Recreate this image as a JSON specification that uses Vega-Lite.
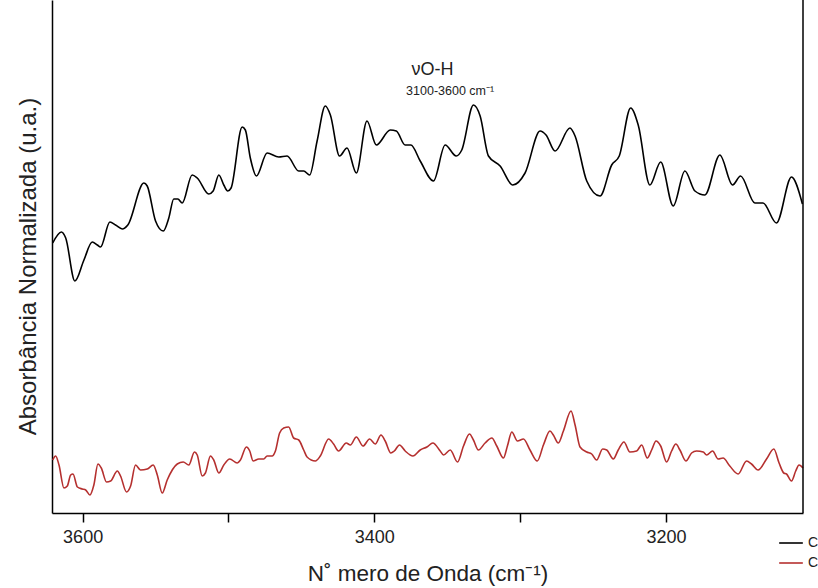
{
  "$schema": "https://vega.github.io/schema/vega-lite/v6.json",
  "width": 751,
  "height": 513,
  "autosize": "none",
  "padding": {"left": 52, "top": 0, "right": 15, "bottom": 75},
  "background": "white",
  "config": {"view": {"stroke": null}, "font": "Liberation Sans"},
  "datasets": {
    "spectra": [
      {"s":"C1","wn":3620.5,"a":2.70},{"s":"C1","wn":3614.6,"a":2.81},{"s":"C1","wn":3611.6,"a":2.75},{"s":"C1","wn":3605.3,"a":2.32},{"s":"C1","wn":3599.1,"a":2.53},{"s":"C1","wn":3593.4,"a":2.71},{"s":"C1","wn":3589.9,"a":2.68},{"s":"C1","wn":3587.7,"a":2.66},{"s":"C1","wn":3581.3,"a":2.91},{"s":"C1","wn":3577.4,"a":2.88},{"s":"C1","wn":3572.8,"a":2.84},{"s":"C1","wn":3569.0,"a":2.88},{"s":"C1","wn":3558.0,"a":3.30},{"s":"C1","wn":3555.7,"a":3.27},{"s":"C1","wn":3550.0,"a":2.92},{"s":"C1","wn":3544.7,"a":2.82},{"s":"C1","wn":3540.9,"a":2.95},{"s":"C1","wn":3537.5,"a":3.14},{"s":"C1","wn":3534.7,"a":3.14},{"s":"C1","wn":3531.7,"a":3.10},{"s":"C1","wn":3524.9,"a":3.38},{"s":"C1","wn":3521.4,"a":3.35},{"s":"C1","wn":3513.5,"a":3.19},{"s":"C1","wn":3510.5,"a":3.22},{"s":"C1","wn":3506.6,"a":3.38},{"s":"C1","wn":3503.2,"a":3.28},{"s":"C1","wn":3500.5,"a":3.22},{"s":"C1","wn":3498.2,"a":3.25},{"s":"C1","wn":3490.6,"a":3.86},{"s":"C1","wn":3488.4,"a":3.83},{"s":"C1","wn":3485.0,"a":3.55},{"s":"C1","wn":3480.8,"a":3.37},{"s":"C1","wn":3473.5,"a":3.60},{"s":"C1","wn":3465.5,"a":3.56},{"s":"C1","wn":3459.8,"a":3.57},{"s":"C1","wn":3451.8,"a":3.42},{"s":"C1","wn":3448.4,"a":3.42},{"s":"C1","wn":3444.3,"a":3.38},{"s":"C1","wn":3439.2,"a":3.72},{"s":"C1","wn":3433.6,"a":4.07},{"s":"C1","wn":3430.1,"a":3.98},{"s":"C1","wn":3423.8,"a":3.57},{"s":"C1","wn":3418.7,"a":3.65},{"s":"C1","wn":3412.3,"a":3.40},{"s":"C1","wn":3405.0,"a":3.92},{"s":"C1","wn":3398.6,"a":3.68},{"s":"C1","wn":3389.0,"a":3.83},{"s":"C1","wn":3384.9,"a":3.82},{"s":"C1","wn":3378.8,"a":3.68},{"s":"C1","wn":3374.9,"a":3.68},{"s":"C1","wn":3368.5,"a":3.52},{"s":"C1","wn":3359.4,"a":3.32},{"s":"C1","wn":3351.4,"a":3.68},{"s":"C1","wn":3343.8,"a":3.57},{"s":"C1","wn":3340.0,"a":3.63},{"s":"C1","wn":3332.0,"a":4.08},{"s":"C1","wn":3327.4,"a":3.97},{"s":"C1","wn":3321.7,"a":3.57},{"s":"C1","wn":3313.7,"a":3.47},{"s":"C1","wn":3305.0,"a":3.28},{"s":"C1","wn":3296.6,"a":3.40},{"s":"C1","wn":3286.3,"a":3.82},{"s":"C1","wn":3282.2,"a":3.78},{"s":"C1","wn":3276.0,"a":3.62},{"s":"C1","wn":3265.8,"a":3.85},{"s":"C1","wn":3262.3,"a":3.77},{"s":"C1","wn":3254.3,"a":3.32},{"s":"C1","wn":3245.2,"a":3.17},{"s":"C1","wn":3237.2,"a":3.48},{"s":"C1","wn":3232.0,"a":3.57},{"s":"C1","wn":3224.2,"a":4.05},{"s":"C1","wn":3219.0,"a":3.88},{"s":"C1","wn":3211.0,"a":3.28},{"s":"C1","wn":3203.6,"a":3.51},{"s":"C1","wn":3195.0,"a":3.07},{"s":"C1","wn":3187.0,"a":3.42},{"s":"C1","wn":3180.1,"a":3.22},{"s":"C1","wn":3173.3,"a":3.18},{"s":"C1","wn":3163.0,"a":3.58},{"s":"C1","wn":3154.3,"a":3.28},{"s":"C1","wn":3148.8,"a":3.37},{"s":"C1","wn":3139.0,"a":3.10},{"s":"C1","wn":3133.4,"a":3.10},{"s":"C1","wn":3124.2,"a":2.90},{"s":"C1","wn":3113.9,"a":3.36},{"s":"C1","wn":3106.4,"a":3.09},
      {"s":"C2","wn":3620.5,"a":0.53},{"s":"C2","wn":3618.5,"a":0.57},{"s":"C2","wn":3616.2,"a":0.48},{"s":"C2","wn":3612.8,"a":0.25},{"s":"C2","wn":3610.5,"a":0.27},{"s":"C2","wn":3608.2,"a":0.38},{"s":"C2","wn":3606.6,"a":0.39},{"s":"C2","wn":3603.6,"a":0.26},{"s":"C2","wn":3600.2,"a":0.24},{"s":"C2","wn":3597.9,"a":0.23},{"s":"C2","wn":3595.0,"a":0.18},{"s":"C2","wn":3592.3,"a":0.28},{"s":"C2","wn":3589.5,"a":0.49},{"s":"C2","wn":3587.2,"a":0.45},{"s":"C2","wn":3583.6,"a":0.31},{"s":"C2","wn":3580.8,"a":0.32},{"s":"C2","wn":3576.2,"a":0.42},{"s":"C2","wn":3574.0,"a":0.37},{"s":"C2","wn":3569.9,"a":0.21},{"s":"C2","wn":3567.1,"a":0.27},{"s":"C2","wn":3563.7,"a":0.48},{"s":"C2","wn":3560.3,"a":0.43},{"s":"C2","wn":3555.7,"a":0.44},{"s":"C2","wn":3551.6,"a":0.48},{"s":"C2","wn":3548.8,"a":0.38},{"s":"C2","wn":3545.4,"a":0.20},{"s":"C2","wn":3542.0,"a":0.33},{"s":"C2","wn":3535.1,"a":0.49},{"s":"C2","wn":3531.0,"a":0.51},{"s":"C2","wn":3527.2,"a":0.48},{"s":"C2","wn":3523.3,"a":0.61},{"s":"C2","wn":3521.4,"a":0.58},{"s":"C2","wn":3518.0,"a":0.37},{"s":"C2","wn":3515.8,"a":0.40},{"s":"C2","wn":3512.3,"a":0.57},{"s":"C2","wn":3510.1,"a":0.53},{"s":"C2","wn":3506.6,"a":0.40},{"s":"C2","wn":3503.2,"a":0.48},{"s":"C2","wn":3499.1,"a":0.54},{"s":"C2","wn":3494.0,"a":0.50},{"s":"C2","wn":3491.8,"a":0.53},{"s":"C2","wn":3487.7,"a":0.66},{"s":"C2","wn":3485.4,"a":0.62},{"s":"C2","wn":3483.1,"a":0.52},{"s":"C2","wn":3479.2,"a":0.54},{"s":"C2","wn":3475.8,"a":0.54},{"s":"C2","wn":3473.5,"a":0.57},{"s":"C2","wn":3470.1,"a":0.57},{"s":"C2","wn":3467.8,"a":0.62},{"s":"C2","wn":3464.9,"a":0.80},{"s":"C2","wn":3462.1,"a":0.85},{"s":"C2","wn":3458.7,"a":0.86},{"s":"C2","wn":3455.3,"a":0.75},{"s":"C2","wn":3451.8,"a":0.73},{"s":"C2","wn":3448.4,"a":0.63},{"s":"C2","wn":3446.1,"a":0.56},{"s":"C2","wn":3440.4,"a":0.52},{"s":"C2","wn":3437.0,"a":0.57},{"s":"C2","wn":3431.3,"a":0.74},{"s":"C2","wn":3427.9,"a":0.69},{"s":"C2","wn":3424.5,"a":0.62},{"s":"C2","wn":3419.2,"a":0.70},{"s":"C2","wn":3416.4,"a":0.68},{"s":"C2","wn":3412.3,"a":0.76},{"s":"C2","wn":3407.7,"a":0.67},{"s":"C2","wn":3403.2,"a":0.74},{"s":"C2","wn":3399.3,"a":0.69},{"s":"C2","wn":3395.4,"a":0.78},{"s":"C2","wn":3392.5,"a":0.72},{"s":"C2","wn":3388.6,"a":0.60},{"s":"C2","wn":3386.3,"a":0.62},{"s":"C2","wn":3382.7,"a":0.68},{"s":"C2","wn":3378.8,"a":0.62},{"s":"C2","wn":3373.5,"a":0.57},{"s":"C2","wn":3368.5,"a":0.63},{"s":"C2","wn":3363.9,"a":0.66},{"s":"C2","wn":3359.8,"a":0.70},{"s":"C2","wn":3354.8,"a":0.62},{"s":"C2","wn":3352.5,"a":0.58},{"s":"C2","wn":3347.9,"a":0.63},{"s":"C2","wn":3342.9,"a":0.51},{"s":"C2","wn":3338.8,"a":0.67},{"s":"C2","wn":3334.7,"a":0.79},{"s":"C2","wn":3332.0,"a":0.73},{"s":"C2","wn":3328.6,"a":0.63},{"s":"C2","wn":3324.0,"a":0.70},{"s":"C2","wn":3319.4,"a":0.75},{"s":"C2","wn":3316.0,"a":0.67},{"s":"C2","wn":3311.4,"a":0.55},{"s":"C2","wn":3308.7,"a":0.67},{"s":"C2","wn":3305.7,"a":0.81},{"s":"C2","wn":3301.8,"a":0.72},{"s":"C2","wn":3297.7,"a":0.74},{"s":"C2","wn":3293.2,"a":0.63},{"s":"C2","wn":3288.2,"a":0.52},{"s":"C2","wn":3284.0,"a":0.68},{"s":"C2","wn":3279.5,"a":0.82},{"s":"C2","wn":3277.2,"a":0.78},{"s":"C2","wn":3273.8,"a":0.70},{"s":"C2","wn":3270.3,"a":0.82},{"s":"C2","wn":3265.1,"a":1.02},{"s":"C2","wn":3262.3,"a":0.88},{"s":"C2","wn":3258.9,"a":0.66},{"s":"C2","wn":3254.3,"a":0.61},{"s":"C2","wn":3250.9,"a":0.59},{"s":"C2","wn":3247.5,"a":0.53},{"s":"C2","wn":3243.4,"a":0.64},{"s":"C2","wn":3240.6,"a":0.63},{"s":"C2","wn":3236.1,"a":0.54},{"s":"C2","wn":3232.7,"a":0.63},{"s":"C2","wn":3228.8,"a":0.71},{"s":"C2","wn":3224.7,"a":0.61},{"s":"C2","wn":3220.1,"a":0.62},{"s":"C2","wn":3216.6,"a":0.68},{"s":"C2","wn":3212.8,"a":0.55},{"s":"C2","wn":3209.8,"a":0.63},{"s":"C2","wn":3206.8,"a":0.72},{"s":"C2","wn":3203.6,"a":0.67},{"s":"C2","wn":3199.5,"a":0.51},{"s":"C2","wn":3196.1,"a":0.62},{"s":"C2","wn":3193.2,"a":0.69},{"s":"C2","wn":3190.4,"a":0.63},{"s":"C2","wn":3186.3,"a":0.52},{"s":"C2","wn":3182.4,"a":0.60},{"s":"C2","wn":3179.0,"a":0.62},{"s":"C2","wn":3174.4,"a":0.61},{"s":"C2","wn":3172.1,"a":0.58},{"s":"C2","wn":3168.0,"a":0.62},{"s":"C2","wn":3164.2,"a":0.54},{"s":"C2","wn":3160.8,"a":0.55},{"s":"C2","wn":3156.2,"a":0.47},{"s":"C2","wn":3150.5,"a":0.39},{"s":"C2","wn":3144.7,"a":0.52},{"s":"C2","wn":3141.3,"a":0.49},{"s":"C2","wn":3136.8,"a":0.43},{"s":"C2","wn":3131.0,"a":0.54},{"s":"C2","wn":3126.0,"a":0.64},{"s":"C2","wn":3122.4,"a":0.50},{"s":"C2","wn":3119.2,"a":0.40},{"s":"C2","wn":3117.3,"a":0.39},{"s":"C2","wn":3113.9,"a":0.32},{"s":"C2","wn":3111.0,"a":0.42},{"s":"C2","wn":3108.7,"a":0.48},{"s":"C2","wn":3106.0,"a":0.45}
    ]
  },
  "layer": [
    {
      "data": {"name": "spectra"},
      "mark": {"type": "line", "interpolate": "monotone", "strokeWidth": 1.6},
      "encoding": {
        "x": {
          "field": "wn", "type": "quantitative",
          "scale": {"domain": [3621, 3106], "nice": false, "zero": false},
          "axis": {
            "values": [3600, 3500, 3400, 3300, 3200],
            "labelExpr": "datum.value % 200 == 0 ? format(datum.value, 'd') : ''",
            "grid": false, "domainColor": "black", "domainWidth": 1.5,
            "tickColor": "black", "tickWidth": 1.5, "tickSize": 9,
            "labelFontSize": 18, "labelColor": "#222222", "labelPadding": 6,
            "title": "N˚ mero de Onda (cm⁻¹)", "titleFontSize": 22.5, "titleFontWeight": "normal",
            "titleColor": "#222222", "titlePadding": 16
          }
        },
        "y": {
          "field": "a", "type": "quantitative",
          "scale": {"domain": [0, 5.13], "nice": false},
          "axis": {
            "ticks": false, "labels": false, "grid": false,
            "domainColor": "black", "domainWidth": 1.5,
            "title": "Absorbância Normalizada (u.a.)", "titleFontSize": 24,
            "titleFontWeight": "normal", "titleColor": "#222222", "titlePadding": 12,
            "titleY": 266
          }
        },
        "color": {
          "field": "s", "type": "nominal",
          "scale": {"domain": ["C1", "C2"], "range": ["#000000", "#b5302f"]},
          "legend": {
            "orient": "none", "legendX": 726, "legendY": 530, "title": null,
            "symbolType": "stroke", "symbolStrokeWidth": 1.6, "symbolSize": 560,
            "labelFontSize": 14, "labelColor": "#222222", "rowPadding": 0
          }
        }
      }
    },
    {
      "data": {"values": [{}]},
      "mark": {"type": "rule", "color": "black", "strokeWidth": 1.5},
      "encoding": {"x": {"datum": 3106, "type": "quantitative"}}
    },
    {
      "data": {"values": [{"wn": 3360, "a": 4.43, "label": "νO-H"}]},
      "mark": {"type": "text", "fontSize": 18, "color": "#222222", "baseline": "middle", "align": "center"},
      "encoding": {
        "x": {"field": "wn", "type": "quantitative"},
        "y": {"field": "a", "type": "quantitative"},
        "text": {"field": "label"}
      }
    },
    {
      "data": {"values": [{"wn": 3348, "a": 4.22, "label": "3100-3600 cm⁻¹"}]},
      "mark": {"type": "text", "fontSize": 12.5, "color": "#222222", "baseline": "middle", "align": "center"},
      "encoding": {
        "x": {"field": "wn", "type": "quantitative"},
        "y": {"field": "a", "type": "quantitative"},
        "text": {"field": "label"}
      }
    }
  ]
}
